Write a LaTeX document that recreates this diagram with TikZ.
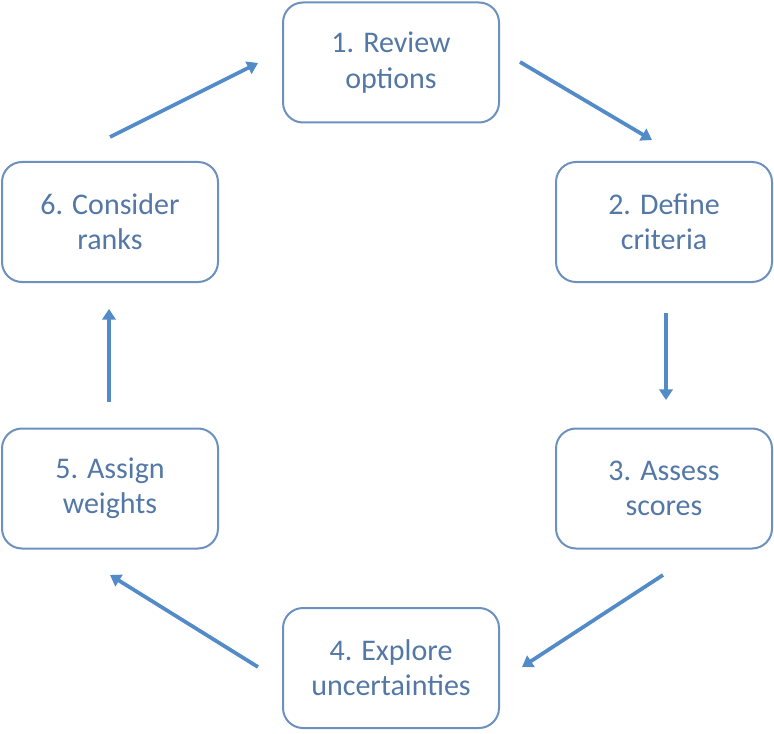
\documentclass[tikz,border=0pt]{standalone}
\usepackage{fontspec}
\setmainfont{Carlito}
\usetikzlibrary{arrows.meta,calc}
\definecolor{boxline}{RGB}{109,145,191}
\definecolor{boxtext}{RGB}{84,120,166}
\definecolor{arrowcol}{RGB}{82,139,200}
\begin{document}
\begin{tikzpicture}[x=0.75pt,y=-0.75pt,
  stepbox/.style={draw=boxline,line width=1.5pt,rounded corners=15pt,fill=white,
    minimum width=162pt,minimum height=90pt,inner sep=0pt,outer sep=0pt,
    align=center,text=boxtext,font=\fontsize{22.5pt}{26.5pt}\selectfont},
  flow/.style={draw=arrowcol,line width=2.8pt,-{Triangle[length=8pt,width=10pt]}}]
\useasboundingbox (0,0) rectangle (774,734);
\node[stepbox] (n1) at (391,62.5) {1. Review\\options};
\node[stepbox] (n2) at (664,222) {2. Define\\criteria};
\node[stepbox] (n3) at (664,488.5) {3. Assess\\scores};
\node[stepbox] (n4) at (391,668) {4. Explore\\uncertainties};
\node[stepbox] (n5) at (110,488.5) {5. Assign\\weights};
\node[stepbox] (n6) at (110,222) {6. Consider\\ranks};
% arrow ends
\coordinate (a1s) at (520,62);  \coordinate (a1e) at (652,140);
\coordinate (a2s) at (666,313); \coordinate (a2e) at (666,400);
\coordinate (a3s) at (663,575); \coordinate (a3e) at (522,667);
\coordinate (a4s) at (258,667); \coordinate (a4e) at (110,575);
\coordinate (a5s) at (109,402); \coordinate (a5e) at (109,309);
\coordinate (a6s) at (110,137); \coordinate (a6e) at (258,63);
\draw[flow] (a1s) -- (a1e);
\draw[flow] (a2s) -- (a2e);
\draw[flow] (a3s) -- (a3e);
\draw[flow] (a4s) -- (a4e);
\draw[flow] (a5s) -- (a5e);
\draw[flow] (a6s) -- (a6e);
\end{tikzpicture}
\end{document}
